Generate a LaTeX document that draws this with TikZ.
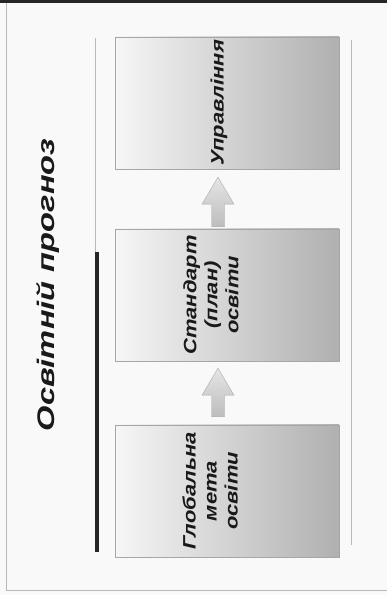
\documentclass[tikz,border=0pt]{standalone}
\usepackage{fontspec}
\setmainfont{Liberation Sans}
\usetikzlibrary{positioning,calc}

\tikzset{
  stage/.style={draw=gray!70, left color=gray!7, right color=gray!62,
    minimum width=224pt, minimum height=132pt, inner sep=0pt},
  stagetext/.style={rotate=90, xscale=1.22, align=center, text=black!90,
    font=\fontsize{18}{21}\selectfont\bfseries\itshape},
  blockarrow/.style={draw=gray!65, top color=gray!20, bottom color=gray!52,
    to path={let \p1=(\tikztostart), \p2=(\tikztotarget) in
      (\x2-6.5pt,\y1) -- (\x2-6.5pt,\y2-27pt) -- (\x2-16pt,\y2-27pt) -- (\x2,\y2)
      -- (\x2+16pt,\y2-27pt) -- (\x2+6.5pt,\y2-27pt) -- (\x2+6.5pt,\y1) -- cycle}}
}

\begin{document}
\begin{tikzpicture}[x=1pt,y=1pt]
\useasboundingbox (0,0) rectangle (387,595);
% background
\fill[gray!5] (0,0) rectangle (387,595);
\draw[gray!55] (6,595) -- (6,5) -- (387,5);
\fill[black!85] (0,592) rectangle (387,595);
% title and rules
\node[rotate=90, xscale=1.36, text=black!90, font=\fontsize{24}{28}\selectfont\bfseries\itshape] (title) at (48,310) {Освітній прогноз};
\draw[gray!55, line width=0.8pt] (95,557) -- (95,343);
\draw[black!85, line width=4pt] (97,343) -- (97,43);
\draw[gray!55, line width=0.8pt] (351,555) -- (351,50);
% stages
\node[stage] (b1) at (227,492) {};
\node[stage] (b2) at (227,300) {};
\node[stage] (b3) at (227,104) {};
\node[stagetext] (t1) at ([xshift=-8pt]b1.center) {Управління};
\node[stagetext] (t2) at ([xshift=-16pt]b2.center) {Стандарт\\(план)\\освіти};
\node[stagetext] (t3) at ([xshift=-17pt]b3.center) {Глобальна\\мета\\освіти};
% arrows
\coordinate (a1s) at ([xshift=-9pt,yshift=2pt]b2.north);
\coordinate (a1e) at ([xshift=-9pt,yshift=-8pt]b1.south);
\coordinate (a2s) at ([xshift=-9pt,yshift=8pt]b3.north);
\coordinate (a2e) at ([xshift=-9pt,yshift=-7pt]b2.south);
\path[blockarrow] (a1s) to (a1e);
\path[blockarrow] (a2s) to (a2e);
\end{tikzpicture}
\end{document}
